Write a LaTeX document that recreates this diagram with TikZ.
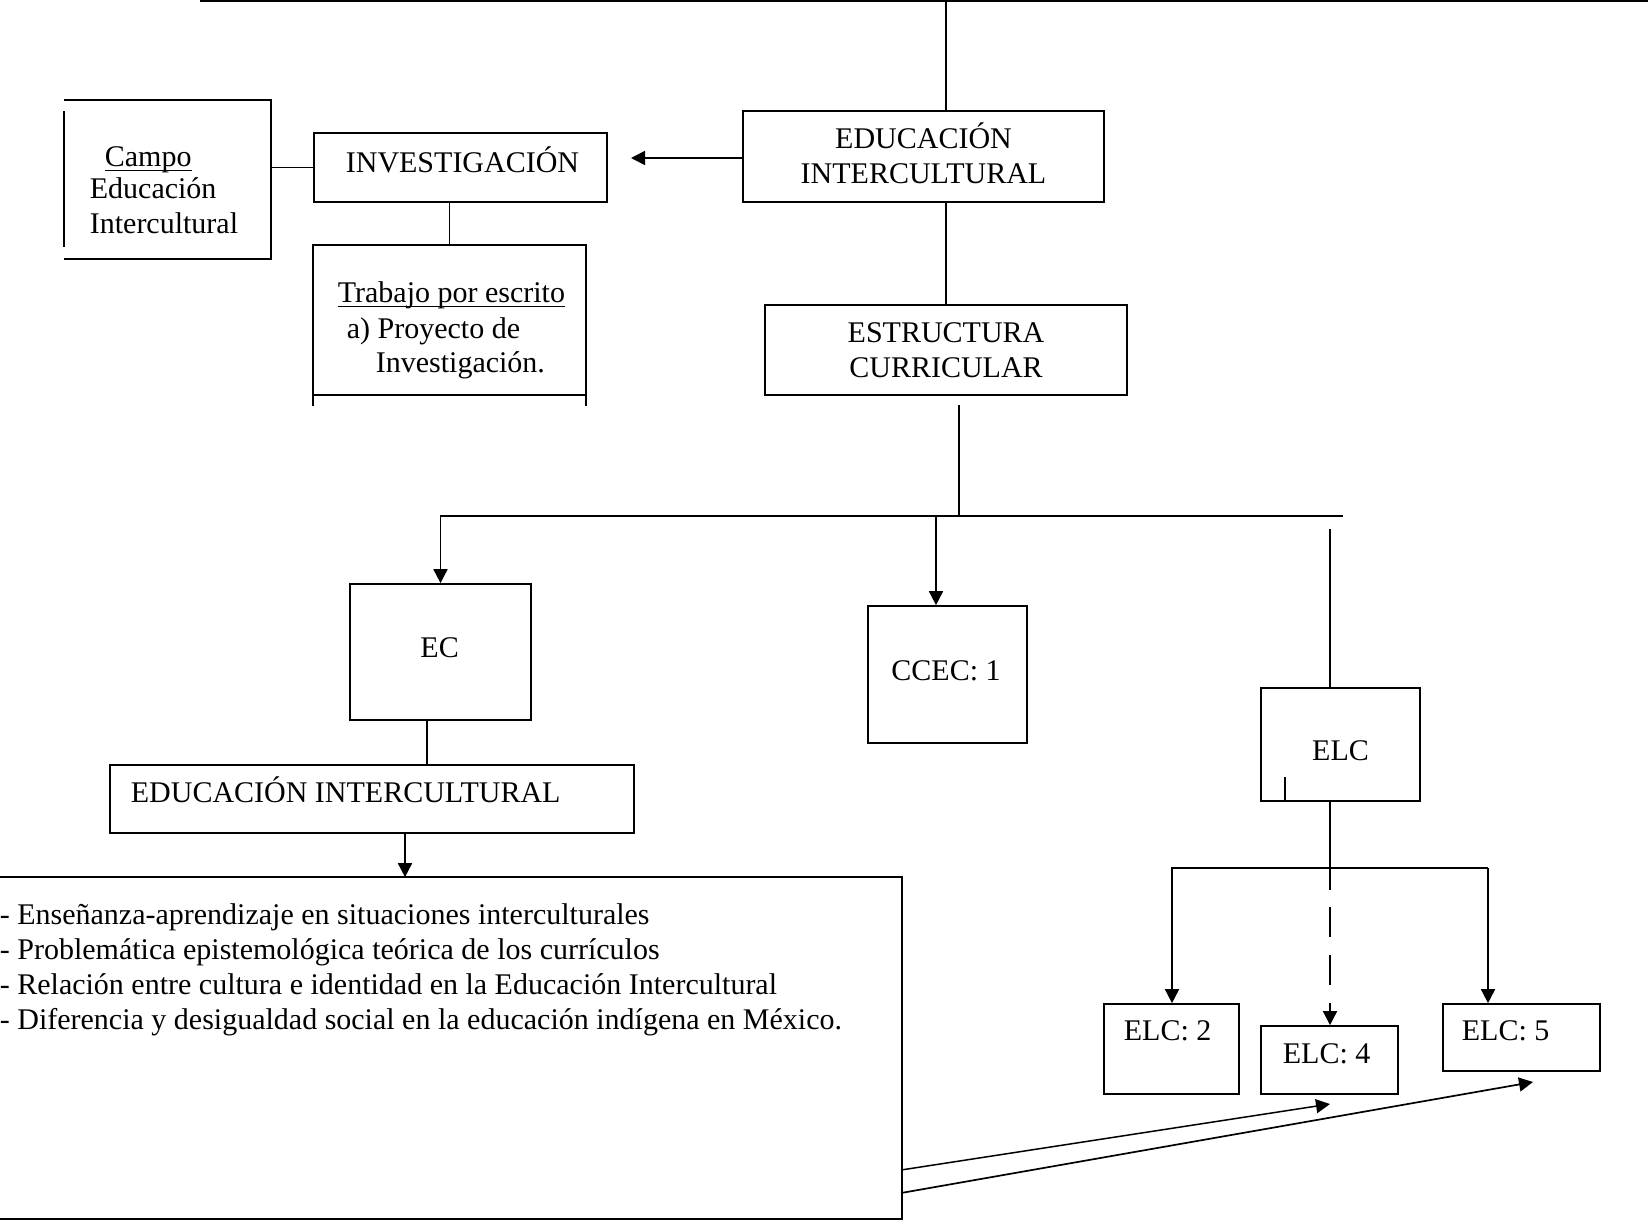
\documentclass[tikz,border=0pt]{standalone}
\usepackage{fontspec}
\setmainfont{Liberation Serif}
\usetikzlibrary{arrows.meta,calc}
\newcommand\myul[1]{\setbox0\hbox{#1}\rlap{\rule[-5pt]{\wd0}{1.5pt}}#1}
\begin{document}
\begin{tikzpicture}[x=1pt,y=-1pt,line width=1.7pt,
  box/.style={draw,inner sep=0pt,line width=1.7pt},
  frame/.style={inner sep=0pt},
  txt/.style={inner sep=0pt,anchor=base west,font=\fontsize{30}{34}\selectfont},
  ctxt/.style={inner sep=0pt,anchor=base,font=\fontsize{30}{34}\selectfont},
  arr/.style={-{Triangle[length=14pt,width=14pt]}}]
\useasboundingbox (0,0) rectangle (1648,1220);

% boxes
\node[frame,minimum width=205pt,minimum height=157pt] (campo) at (167.5,179.5) {};
\node[box,minimum width=293pt,minimum height=69pt] (inv) at (460.5,167.5) {};
\node[frame,minimum width=271pt,minimum height=148pt] (trab) at (449.5,320) {};
\node[box,minimum width=361pt,minimum height=91pt] (ei) at (923.5,156.5) {};
\node[box,minimum width=362pt,minimum height=90pt] (est) at (946,350) {};
\node[box,minimum width=181pt,minimum height=136pt] (ec) at (440.5,652) {};
\node[box,minimum width=159pt,minimum height=137pt] (ccec) at (947.5,674.5) {};
\node[box,minimum width=159pt,minimum height=113pt] (elc) at (1340.5,744.5) {};
\node[box,minimum width=524pt,minimum height=68pt] (ei2) at (372,799) {};
\node[frame,minimum width=901pt,minimum height=340pt] (big) at (450.5,1048) {};
\node[box,minimum width=135pt,minimum height=90pt] (elc2) at (1171.5,1049) {};
\node[box,minimum width=137pt,minimum height=68pt] (elc4) at (1329.5,1060) {};
\node[box,minimum width=157pt,minimum height=67pt] (elc5) at (1521.5,1037.5) {};

% partial frames
\draw (campo.north west) -- (campo.north east) -- (campo.south east) -- (campo.south west);
\draw ($(campo.north west)+(0,11)$) -- ($(campo.south west)+(0,-12)$);
\draw (trab.south west) -- (trab.north west) -- (trab.north east) -- (trab.south east);
\draw (trab.south west) -- (trab.south east);
\draw (trab.south west) -- ($(trab.south west)+(0,11)$);
\draw (trab.south east) -- ($(trab.south east)+(0,11)$);
\draw (big.north west) -- (big.north east) -- (big.south east) -- (big.south west);

% texts
\node[txt] (tcampo) at (104,166) {\myul{Campo}};
\node[txt] (tcampo2) at (89,198) {Educación};
\node[txt] (tcampo3) at (89,233) {Intercultural};
\node[txt] (tinv) at (345,172) {INVESTIGACIÓN};
\node[txt] (ttrab1) at (337,302) {\myul{Trabajo por escrito}};
\node[txt] (ttrab2) at (346,338) {a) Proyecto de};
\node[txt] (ttrab3) at (375,372) {Investigación.};
\node[ctxt] (tei1) at (923.5,148) {EDUCACIÓN};
\node[ctxt] (tei2) at (923.5,183) {INTERCULTURAL};
\node[ctxt] (test1) at (946,342) {ESTRUCTURA};
\node[ctxt] (test2) at (946,377) {CURRICULAR};
\node[ctxt] (tec) at (439.6,657) {EC};
\node[ctxt] (tccec) at (946,680) {CCEC: 1};
\node[ctxt] (telc) at (1340.5,760) {ELC};
\node[txt] (tei2b) at (130,802) {EDUCACIÓN INTERCULTURAL};
\node[txt] (tb1) at (-1,924) {- Enseñanza-aprendizaje en situaciones interculturales};
\node[txt] (tb2) at (-1,959) {- Problemática epistemológica teórica de los currículos};
\node[txt] (tb3) at (-1,994) {- Relación entre cultura e identidad en la Educación Intercultural};
\node[txt] (tb4) at (-1,1029) {- Diferencia y desigualdad social en la educación indígena en México.};
\node[txt] (telc2) at (1123,1040) {ELC: 2};
\node[txt] (telc4) at (1282,1063) {ELC: 4};
\node[txt] (telc5) at (1461,1040) {ELC: 5};

% coordinates
\coordinate (tl) at (200,1);
\coordinate (tr) at (1648,1);
\coordinate (topj) at (946,1);
\coordinate (invtip) at (631,158);
\coordinate (estout) at (959,405);
\coordinate (hl) at (440.5,516);
\coordinate (hr) at (1343,516);
\coordinate (cj) at (936,516);
\coordinate (ej) at (1330,529);
\coordinate (tick) at (1285,777);
\coordinate (dsolid) at (1330,890);
\coordinate (dstart) at (1330,907);
\coordinate (bl) at (1172,868);
\coordinate (br) at (1488,868);
\coordinate (ecx) at (427,0);
\coordinate (eix) at (405,0);
\coordinate (s1) at (901,1170);
\coordinate (s2) at (901,1193);
\coordinate (e1) at (1330,1104);
\coordinate (e2) at (1533,1082);

% connectors
\draw (tl) -- (tr);
\draw (topj) -- (topj |- ei.north);
\draw[arr] (ei.west |- invtip) -- (invtip);
\draw (campo.east |- inv.center) -- (inv.west);
\draw (trab.north |- inv.south) -- (trab.north);
\draw (est.north |- ei.south) -- (est.north);
\draw (estout) -- (estout |- hl);
\draw[arr] (hr) -- (hl) -- (ec.north);
\draw[arr] (cj) -- (cj |- ccec.north);
\draw (ej) -- (ej |- elc.north);
\draw (tick) -- (tick |- elc.south);
\draw (ej |- elc.south) -- (dsolid);
\draw[arr] (br) -- (bl) -- (bl |- elc2.north);
\draw[arr] (br) -- (br |- elc5.north);
\draw[arr,dash pattern=on 30pt off 18pt] (dstart) -- (dstart |- elc4.north);
\draw (ecx |- ec.south) -- (ecx |- ei2.north);
\draw[arr] (eix |- ei2.south) -- (eix |- big.north);
\draw[arr,line width=1.5pt] (s1) -- (e1);
\draw[arr] (s2) -- (e2);
\end{tikzpicture}
\end{document}
